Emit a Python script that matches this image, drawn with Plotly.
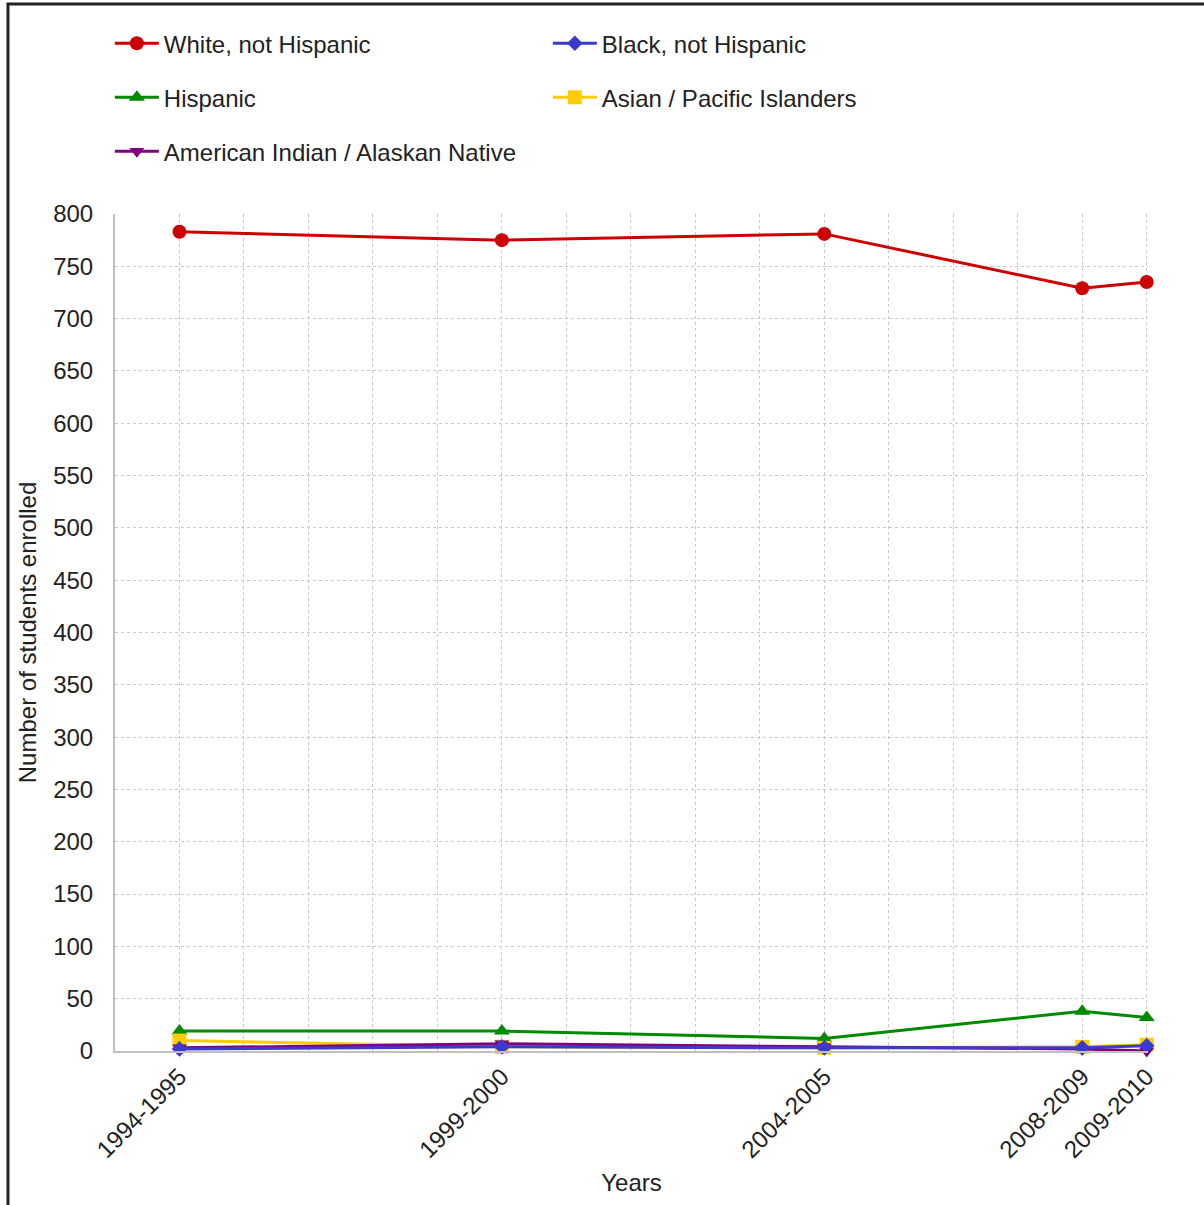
import plotly.graph_objects as go

# School years (first calendar year of each school year) and their labels
start_years = [1994, 1999, 2004, 2008, 2009]
year_labels = ["1994-1995", "1999-2000", "2004-2005", "2008-2009", "2009-2010"]

# Enrollment by race / ethnicity
white = [783, 775, 781, 729, 735]
black = [2, 4, 3, 3, 5]
hispanic = [19, 19, 12, 38, 32]
asian = [10, 4, 3, 4, 6]
am_indian = [3, 7, 4, 2, 0]

FONT = "Arial, Liberation Sans, sans-serif"

series = [
    # name, values, color, symbol, marker size, legend id, legend rank
    ("White, not Hispanic", white, "#cc0000", "circle", 14, "legend", 1),
    ("Hispanic", hispanic, "#008a00", "triangle-up", 14, "legend2", 3),
    ("Asian / Pacific Islanders", asian, "#ffcc00", "square", 14, "legend2", 4),
    ("American Indian / Alaskan Native", am_indian, "#800080", "triangle-down", 13, "legend3", 5),
    ("Black, not Hispanic", black, "#3a3acc", "diamond", 12, "legend", 2),
]

fig = go.Figure()
for name, vals, color, symbol, msize, leg, rank in series:
    fig.add_trace(go.Scatter(
        x=start_years, y=vals, name=name, mode="lines+markers",
        line=dict(color=color, width=3),
        marker=dict(color=color, symbol=symbol, size=msize),
        cliponaxis=False, legend=leg, legendrank=rank,
    ))

legend_common = dict(
    orientation="h", entrywidth=379, entrywidthmode="pixels",
    font=dict(family=FONT, size=24, color="#222222"),
    bgcolor="rgba(0,0,0,0)", xanchor="left", yanchor="middle",
    itemwidth=44, tracegroupgap=0, traceorder="normal",
)

LEG_X = -0.005
fig.update_layout(
    width=1204, height=1205,
    margin=dict(l=115, r=56, t=214, b=154),
    paper_bgcolor="white", plot_bgcolor="white",
    font=dict(family=FONT, size=24, color="#222222"),
    showlegend=True,
    legend=dict(x=LEG_X, y=1.2036, **legend_common),
    legend2=dict(x=LEG_X, y=1.1391, **legend_common),
    legend3=dict(x=LEG_X, y=1.0746, **legend_common),
    xaxis=dict(
        range=[1993, 2009.02],
        tickvals=start_years, ticktext=year_labels, tickangle=-45,
        tickfont=dict(family=FONT, size=24, color="#222222"),
        showgrid=True, gridcolor="#c8c8c8", griddash="dot", gridwidth=1,
        minor=dict(dtick=1, tick0=1993, showgrid=True, gridcolor="#c8c8c8",
                   griddash="dot", gridwidth=1),
        showline=True, linecolor="#c0c0c0", linewidth=2,
        zeroline=False,
        title=dict(text="Years", font=dict(family=FONT, size=24, color="#222222"),
                   standoff=12),
    ),
    yaxis=dict(
        range=[0, 800], dtick=50,
        tickfont=dict(family=FONT, size=24, color="#222222"),
        showgrid=True, gridcolor="#c8c8c8", griddash="dot", gridwidth=1,
        showline=True, linecolor="#c0c0c0", linewidth=2,
        zeroline=False, ticklabelstandoff=15,
        title=dict(text="Number of students enrolled",
                   font=dict(family=FONT, size=24, color="#222222"), standoff=10),
    ),
)

# Frame around the whole chart
fig.add_shape(type="rect", xref="paper", yref="paper",
              x0=-0.1036, x1=1.07, y0=-0.2, y1=1.2509,
              line=dict(color="#222222", width=3), layer="above")

fig.write_html("out.html")
